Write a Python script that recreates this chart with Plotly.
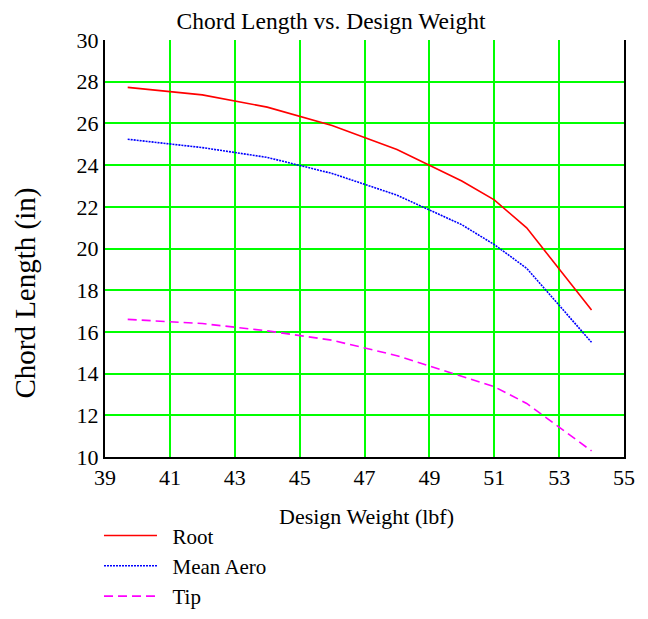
import plotly.graph_objects as go

weight = [39.7, 42, 44, 46, 48, 50, 51, 52, 54]
root = [27.73, 27.37, 26.78, 25.9, 24.75, 23.24, 22.33, 20.99, 17.05]
mean_aero = [25.24, 24.84, 24.37, 23.6, 22.56, 21.14, 20.19, 19.05, 15.5]
tip = [16.6, 16.4, 16.05, 15.6, 14.86, 13.85, 13.37, 12.57, 10.29]

x_ticks = [39, 41, 43, 45, 47, 49, 51, 53, 55]
y_ticks = [10, 12, 14, 16, 18, 20, 22, 24, 26, 28, 30]

FONT = "Liberation Serif, Times New Roman, serif"
NB = "\u00a0\u00a0"

W, H = 640, 611  # page body adds an 8px margin in the 648x619 window

fig = go.Figure()
fig.add_trace(go.Scatter(x=weight, y=root, mode="lines", name=NB + "Root",
                         line=dict(color="#FF0000", width=1.6)))
fig.add_trace(go.Scatter(x=weight, y=mean_aero, mode="lines", name=NB + "Mean Aero",
                         line=dict(color="#0000FF", width=1.6, dash="2px,1px")))
fig.add_trace(go.Scatter(x=weight, y=tip, mode="lines", name=NB + "Tip",
                         line=dict(color="#FF00FF", width=1.6, dash="9px,5px")))

fig.update_layout(
    width=W, height=H,
    margin=dict(l=97, r=24, t=32, b=162),
    paper_bgcolor="white", plot_bgcolor="white",
    font=dict(family=FONT, size=22, color="black"),
    title=dict(text="Chord Length vs. Design Weight", x=323 / W, xanchor="center",
               xref="container", y=1 - 13 / H, yanchor="middle", yref="container",
               font=dict(family=FONT, size=23.5)),
    showlegend=True,
    legend=dict(x=-0.0116, xanchor="left", xref="paper",
                y=0.1696, yanchor="top", yref="container",
                bgcolor="rgba(0,0,0,0)", tracegroupgap=0,
                font=dict(family=FONT, size=21), itemwidth=53),
    xaxis=dict(range=[39, 55], tickvals=x_ticks, ticktext=[str(v) for v in x_ticks],
               showgrid=True, gridcolor="#00FF00", gridwidth=2,
               showline=True, linecolor="black", linewidth=2, mirror=False,
               ticks="", ticklen=0, zeroline=False, automargin=False,
               tickfont=dict(family=FONT, size=22)),
    yaxis=dict(range=[10, 30], tickvals=y_ticks, ticktext=[str(v) for v in y_ticks],
               showgrid=True, gridcolor="#00FF00", gridwidth=2,
               showline=True, linecolor="black", linewidth=2, mirror=True,
               ticks="", ticklen=0, zeroline=False, automargin=False,
               tickfont=dict(family=FONT, size=22)),
    annotations=[
        dict(text="Chord Length (in)", textangle=-90, showarrow=False,
             xref="paper", yref="paper", x=-0.1532, y=0.393,
             xanchor="center", yanchor="middle",
             font=dict(family=FONT, size=29)),
        dict(text="Design Weight (lbf)", showarrow=False,
             xref="paper", yref="paper", x=0.503, y=-0.1415,
             xanchor="center", yanchor="middle",
             font=dict(family=FONT, size=22)),
    ],
)

fig.write_html("out.html")
